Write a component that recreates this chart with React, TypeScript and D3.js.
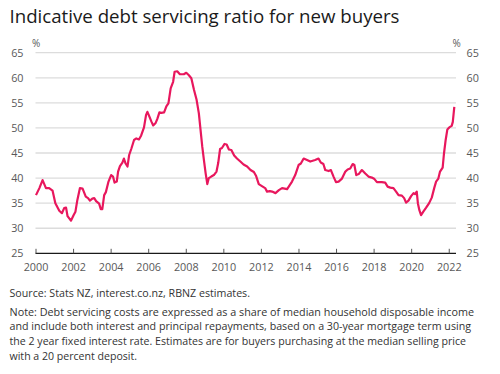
import React from "react";
import * as d3 from "d3";

const title = "Indicative debt servicing ratio for new buyers";
const yTicks = [25, 30, 35, 40, 45, 50, 55, 60, 65];
const xTicks = [2000, 2002, 2004, 2006, 2008, 2010, 2012, 2014, 2016, 2018, 2020, 2022];

const dates = [
  2000.0, 2000.18, 2000.35, 2000.53, 2000.7, 2000.88, 2001.03, 2001.24, 2001.38, 2001.5, 2001.6, 2001.68, 2001.86,
  2002.0, 2002.1, 2002.2, 2002.34, 2002.48, 2002.65, 2002.77, 2002.87, 2003.0, 2003.1, 2003.2, 2003.36, 2003.45,
  2003.53, 2003.63, 2003.72, 2003.86, 2004.0, 2004.1, 2004.18, 2004.3, 2004.37, 2004.47, 2004.6, 2004.68, 2004.77,
  2004.87, 2004.96, 2005.08, 2005.22, 2005.34, 2005.48, 2005.6, 2005.75, 2005.86, 2005.93, 2006.0, 2006.14, 2006.24,
  2006.37, 2006.46, 2006.57, 2006.67, 2006.82, 2006.94, 2007.05, 2007.17, 2007.3, 2007.38, 2007.52, 2007.66, 2007.87,
  2008.0, 2008.14, 2008.27, 2008.41, 2008.55, 2008.67, 2008.76, 2008.85, 2008.94, 2009.03, 2009.12, 2009.2, 2009.33,
  2009.47, 2009.61, 2009.7, 2009.8, 2009.9, 2010.04, 2010.15, 2010.27, 2010.4, 2010.55, 2010.7, 2010.88, 2011.05,
  2011.24, 2011.42, 2011.6, 2011.72, 2011.86, 2012.07, 2012.2, 2012.3, 2012.45, 2012.57, 2012.75, 2012.93, 2013.1,
  2013.37, 2013.63, 2013.8, 2013.98, 2014.1, 2014.25, 2014.43, 2014.6, 2014.86, 2015.04, 2015.16, 2015.3, 2015.4,
  2015.58, 2015.7, 2015.84, 2015.97, 2016.11, 2016.29, 2016.47, 2016.59, 2016.73, 2016.86, 2016.95, 2017.05, 2017.18,
  2017.35, 2017.53, 2017.7, 2017.88, 2018.02, 2018.15, 2018.41, 2018.59, 2018.72, 2018.86, 2019.03, 2019.17, 2019.3,
  2019.48, 2019.6, 2019.7, 2019.83, 2019.97, 2020.1, 2020.18, 2020.27, 2020.33, 2020.41, 2020.5, 2020.62, 2020.77,
  2020.93, 2021.07, 2021.2, 2021.3, 2021.42, 2021.51, 2021.65, 2021.72, 2021.81, 2021.9, 2022.0, 2022.13, 2022.19,
  2022.27,
];

const ratio = [
  36.6, 38.0, 39.6, 38.0, 38.0, 37.5, 35.0, 33.5, 33.0, 34.0, 34.1, 32.4, 31.5,
  32.6, 33.3, 35.6, 38.0, 37.9, 36.3, 36.0, 35.5, 35.9, 36.0, 35.4, 34.9, 33.8,
  33.8, 36.6, 37.2, 39.3, 40.6, 40.3, 39.1, 39.3, 41.3, 42.4, 43.1, 43.9, 42.9,
  42.3, 44.6, 45.9, 47.6, 47.9, 47.7, 48.5, 50.1, 52.6, 53.2, 52.6, 51.3, 50.5,
  51.0, 51.8, 53.1, 53.0, 53.1, 54.3, 54.9, 57.9, 59.2, 61.2, 61.3, 60.7, 60.7,
  61.0, 60.5, 59.9, 57.6, 55.6, 52.9, 49.6, 46.3, 43.6, 41.0, 38.8, 40.0, 40.3,
  40.6, 41.3, 43.0, 45.8, 46.0, 46.8, 46.7, 45.7, 45.6, 44.5, 43.9, 43.3, 42.7,
  42.3, 41.6, 41.2, 40.4, 38.8, 38.3, 38.0, 37.3, 37.4, 37.3, 37.0, 37.6, 38.0,
  37.8, 39.3, 40.6, 42.6, 42.9, 43.9, 43.6, 43.3, 43.6, 43.9, 43.1, 42.8, 41.6,
  41.4, 41.6, 40.3, 39.2, 39.3, 39.9, 41.3, 41.7, 41.9, 42.8, 42.6, 40.6, 40.8,
  41.6, 40.9, 40.3, 40.1, 39.8, 39.2, 39.2, 39.1, 38.3, 38.1, 38.0, 37.3, 36.6,
  36.5, 36.0, 35.1, 35.5, 36.4, 37.0, 36.8, 37.3, 35.0, 33.6, 32.6, 33.3, 34.1,
  35.0, 36.1, 38.0, 39.3, 39.9, 41.3, 42.1, 44.9, 47.6, 49.7, 50.1, 50.4, 51.2,
  54.2,
];

const sourceText = "Source: Stats NZ, interest.co.nz, RBNZ estimates.";
const noteLines = [
  "Note: Debt servicing costs are expressed as a share of median household disposable income",
  "and include both interest and principal repayments, based on a 30-year mortgage term using",
  "the 2 year fixed interest rate. Estimates are for buyers purchasing at the median selling price",
  "with a 20 percent deposit.",
];
const noteWidths = [464.5, 461.5, 456.5, 127.5];

export default function App() {
  const W = 500, H = 374;
  const left = 35.5, right = 456;
  const x = d3.scaleLinear().domain([2000, 2022.36]).range([36, 456]);
  const y = d3.scaleLinear().domain([25, 65]).range([253.3, 52.7]);
  const pts = dates.map((d, i) => [d, ratio[i]] as [number, number]);
  const line = d3.line<[number, number]>().x(d => x(d[0])).y(d => y(d[1]));
  const font = "'Open Sans', 'Noto Sans', sans-serif";
  const grey = "#595959";

  return (
    <div style={{ position: "absolute", left: 0, top: 0, width: W, height: H, background: "#fff" }}>
      <svg width={W} height={H} style={{ display: "block" }} fontFamily={font}>
        <text x={9.5} y={22.5} fontSize={18.2} fill="#1a1a1a" textLength={390} lengthAdjust="spacingAndGlyphs">{title}</text>
        {yTicks.map(t => (
          <g key={t}>
            {t !== 25 && (
              <line x1={left} x2={right} y1={y(t)} y2={y(t)} stroke="#dcdcdc" strokeWidth={1.3} />
            )}
            <text x={23.5} y={y(t) + 4} fontSize={10.8} fill={grey} textAnchor="end">{t}</text>
            <text x={466.5} y={y(t) + 4} fontSize={10.8} fill={grey}>{t}</text>
          </g>
        ))}
        <text x={32} y={47} fontSize={10} fill={grey}>%</text>
        <text x={452.5} y={47} fontSize={10} fill={grey}>%</text>
        <line x1={left} x2={right} y1={y(25)} y2={y(25)} stroke="#1a1a1a" strokeWidth={1.3} />
        {xTicks.map(t => (
          <g key={t}>
            <line x1={x(t)} x2={x(t)} y1={y(25) - 4.5} y2={y(25)} stroke="#555" strokeWidth={1} />
            <text x={x(t)} y={271} fontSize={10.8} fill={grey} textAnchor="middle">{t}</text>
          </g>
        ))}
        <path d={line(pts) || ""} fill="none" stroke="#e8175d" strokeWidth={2.2} strokeLinejoin="round" />
        <text x={9.5} y={296.5} fontSize={10.5} fill="#333" textLength={240.5} lengthAdjust="spacingAndGlyphs">{sourceText}</text>
        {noteLines.map((l, i) => (
          <text key={i} x={9.5} y={315.5 + i * 14.9} fontSize={10.5} fill="#333" textLength={noteWidths[i]} lengthAdjust="spacingAndGlyphs">{l}</text>
        ))}
      </svg>
    </div>
  );
}
